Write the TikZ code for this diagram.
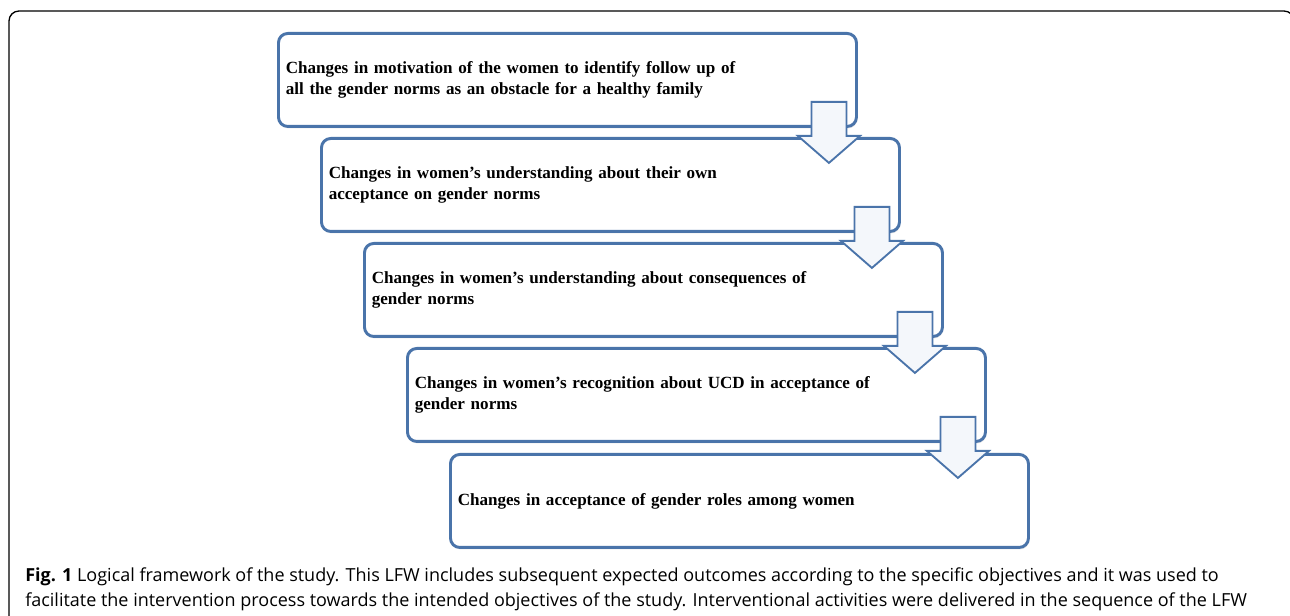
\documentclass[tikz,border=0pt]{standalone}
\usepackage{fontspec}
\setmainfont{Liberation Serif}
\newfontfamily\captionfont{Open Sans}
\usetikzlibrary{calc, shadows}
\definecolor{colorBox}{RGB}{74,116,170}
\definecolor{colorArrowFill}{RGB}{244,247,251}
\tikzset{
  outcome/.style={draw=colorBox, line width=2.2pt, rounded corners=7pt, fill=white,
    minimum width=433.5pt, minimum height=69.75pt, text width=422.5pt, inner xsep=5.5pt,
    align=left, anchor=north west, font=\bfseries\fontsize{12.8}{15.5}\selectfont,
    drop shadow={shadow xshift=0.6pt, shadow yshift=-1.5pt, opacity=0.2}},
  flowarrow/.pic={\draw[draw=colorBox, line width=1.4pt, fill=colorArrowFill, line join=miter]
    (-17.5,-26) -- (17.5,-26) -- (17.5,8) -- (31,8) -- (0,35) -- (-31,8) -- (-17.5,8) -- cycle;}
}

\begin{document}
\begin{tikzpicture}[x=0.75pt, y=-0.75pt]
\useasboundingbox (0,0) rectangle (1290,616);
\clip (0,0) rectangle (1290,616);
% figure frame
\draw[line width=1pt, rounded corners=7.5pt] (9,660) -- (9,11) -- (1294,11) -- (1294,660);
% outcome boxes
\node[outcome] (b1) at (277,32) {Changes in motivation of the women to identify follow up of\\all the gender norms as an obstacle for a healthy family};
\node[outcome] (b2) at (320,137) {Changes in women's understanding about their own\\acceptance on gender norms};
\node[outcome] (b3) at (363,242) {Changes in women's understanding about consequences of\\gender norms};
\node[outcome] (b4) at (406,347) {Changes in women's recognition about UCD in acceptance of\\gender norms};
\node[outcome] (b5) at (449,453) {Changes in acceptance of gender roles among women};
% arrows between boxes
\pic at ($(b1.south east)+(-29,0)$) {flowarrow};
\pic at ($(b2.south east)+(-29,0)$) {flowarrow};
\pic at ($(b3.south east)+(-29,0)$) {flowarrow};
\pic at ($(b4.south east)+(-29,0)$) {flowarrow};
% caption
\node[anchor=north west, inner sep=0pt, align=left, font=\captionfont\fontsize{13.5}{18.75}\selectfont] (caption) at (25,567)
  {\textbf{Fig. 1} Logical framework of the study. This LFW includes subsequent expected outcomes according to the specific objectives and it was used to\\
   facilitate the intervention process towards the intended objectives of the study. Interventional activities were delivered in the sequence of the LFW};
\end{tikzpicture}
\end{document}
